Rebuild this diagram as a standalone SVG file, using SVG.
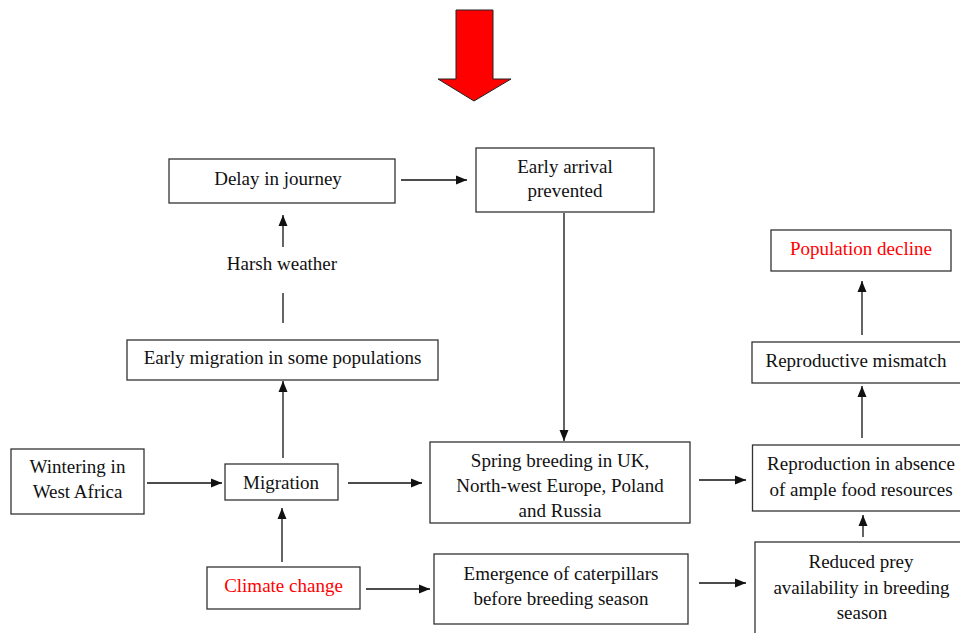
<svg xmlns="http://www.w3.org/2000/svg" width="960" height="633" viewBox="0 0 960 633">
<style>
.box{fill:#fff;stroke:#333;stroke-width:1.3}
.t{font-family:"Liberation Serif","Times New Roman",serif;font-size:19px;fill:#111;text-anchor:middle}
.red{fill:#ff0000}
.c{stroke:#111;stroke-width:1.3;fill:none}
</style>
<defs>
<marker id="ah" markerUnits="userSpaceOnUse" markerWidth="12" markerHeight="10" refX="11" refY="5" orient="auto">
<path d="M0,0.5 L11,5 L0,9.5 Z" fill="#111"/>
</marker>
</defs>
<rect width="960" height="633" fill="#fff"/>
<g id="big-arrow">
<path d="M456,10 L493,10 L493,79 L511,79 L474,101 L438,79 L456,79 Z" fill="#ff0000" stroke="#222" stroke-width="1"/>
</g>
<g id="connectors">
<line class="c" x1="401" y1="180" x2="467" y2="180" marker-end="url(#ah)"/>
<line class="c" x1="564" y1="213" x2="564" y2="441" marker-end="url(#ah)"/>
<line class="c" x1="283" y1="247" x2="283" y2="215" marker-end="url(#ah)"/>
<line class="c" x1="283" y1="323" x2="283" y2="293"/>
<line class="c" x1="283" y1="458" x2="283" y2="381" marker-end="url(#ah)"/>
<line class="c" x1="147" y1="483" x2="222" y2="483" marker-end="url(#ah)"/>
<line class="c" x1="348" y1="483" x2="422" y2="483" marker-end="url(#ah)"/>
<line class="c" x1="282" y1="562" x2="282" y2="508" marker-end="url(#ah)"/>
<line class="c" x1="366" y1="589" x2="430" y2="589" marker-end="url(#ah)"/>
<line class="c" x1="699" y1="480" x2="746" y2="480" marker-end="url(#ah)"/>
<line class="c" x1="699" y1="583" x2="746" y2="583" marker-end="url(#ah)"/>
<line class="c" x1="863" y1="537" x2="863" y2="515" marker-end="url(#ah)"/>
<line class="c" x1="862" y1="438" x2="862" y2="386" marker-end="url(#ah)"/>
<line class="c" x1="862" y1="335" x2="862" y2="281" marker-end="url(#ah)"/>
</g>
<g id="delay">
<rect class="box" x="169" y="159" width="226" height="44"/>
<text class="t" x="278" y="185">Delay in journey</text>
</g>
<g id="early-arrival">
<rect class="box" x="476" y="148" width="178" height="64"/>
<text class="t" x="565" y="173">Early arrival</text>
<text class="t" x="565" y="197">prevented</text>
</g>
<g id="harsh-weather">
<text class="t" x="282" y="270">Harsh weather</text>
</g>
<g id="early-migration">
<rect class="box" x="127" y="340" width="311" height="40"/>
<text class="t" x="282.5" y="364">Early migration in some populations</text>
</g>
<g id="wintering">
<rect class="box" x="11" y="449" width="133" height="65"/>
<text class="t" x="77.5" y="473">Wintering in</text>
<text class="t" x="77.5" y="498">West Africa</text>
</g>
<g id="migration">
<rect class="box" x="225" y="464" width="113" height="36"/>
<text class="t" x="281" y="489">Migration</text>
</g>
<g id="climate-change">
<rect class="box" x="207" y="567" width="153" height="42"/>
<text class="t red" x="283.5" y="592">Climate change</text>
</g>
<g id="spring-breeding">
<rect class="box" x="430" y="442" width="260" height="81"/>
<text class="t" x="560" y="467">Spring breeding in UK,</text>
<text class="t" x="560" y="492">North-west Europe, Poland</text>
<text class="t" x="560" y="517">and Russia</text>
</g>
<g id="emergence">
<rect class="box" x="434" y="554" width="254" height="70"/>
<text class="t" x="561" y="580">Emergence of caterpillars</text>
<text class="t" x="561" y="605">before breeding season</text>
</g>
<g id="population-decline">
<rect class="box" x="771" y="230" width="180" height="41"/>
<text class="t red" x="861" y="255">Population decline</text>
</g>
<g id="reproductive-mismatch">
<rect class="box" x="752" y="342" width="215" height="41"/>
<text class="t" x="856" y="367">Reproductive mismatch</text>
</g>
<g id="reproduction-absence">
<rect class="box" x="752.5" y="445" width="215" height="66"/>
<text class="t" x="861" y="470">Reproduction in absence</text>
<text class="t" x="861" y="496">of ample food resources</text>
</g>
<g id="reduced-prey">
<rect class="box" x="755" y="542" width="215" height="100"/>
<text class="t" x="861" y="568">Reduced prey</text>
<text class="t" x="861.5" y="594">availability in breeding</text>
<text class="t" x="862" y="619">season</text>
</g>
</svg>
